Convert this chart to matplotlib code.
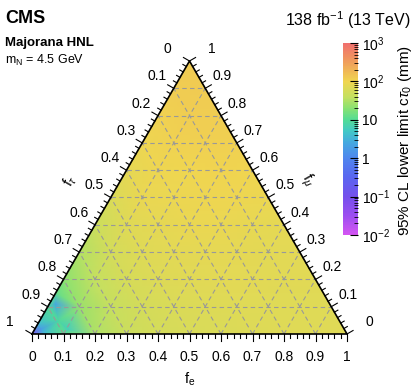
import numpy as np
import matplotlib
matplotlib.use("Agg")
import matplotlib.pyplot as plt
import matplotlib.tri as mtri
from matplotlib.colors import LinearSegmentedColormap, LogNorm
from matplotlib.cm import ScalarMappable
from matplotlib.ticker import FixedLocator, FixedFormatter, LogLocator

plt.rcParams['font.family'] = ['Liberation Sans', 'DejaVu Sans']
plt.rcParams['mathtext.fontset'] = 'custom'
plt.rcParams['mathtext.rm'] = 'Liberation Sans'
plt.rcParams['mathtext.it'] = 'Liberation Sans:italic'
plt.rcParams['mathtext.bf'] = 'Liberation Sans:bold'

# ---------------- data ----------------
# f_mu levels (rows); each row lists ctau lower limit (mm) for f_e = 0, 0.1, ...
mu_levels = [0.0, 0.1, 0.2, 0.3, 0.4, 0.5, 0.6, 0.7, 0.8, 0.9, 1.0]
ctau_row_00 = [0.05, 12, 30, 45, 55, 60, 63, 66, 68, 68, 68]
ctau_row_01 = [10, 25, 42, 55, 62, 66, 68, 69, 69, 68]
ctau_row_02 = [20, 40, 58, 66, 71, 74, 74, 72, 71]
ctau_row_03 = [32, 55, 68, 76, 79, 79, 76, 74]
ctau_row_04 = [45, 68, 80, 85, 85, 83, 79]
ctau_row_05 = [63, 85, 90, 93, 93, 89]
ctau_row_06 = [79, 95, 100, 105, 100]
ctau_row_07 = [95, 110, 112, 112]
ctau_row_08 = [110, 120, 120]
ctau_row_09 = [120, 126]
ctau_row_10 = [126]
# extra points near the f_tau = 1 corner
extra_fe = [0.0, 0.04, 0.02, 0.02, 0.105, 0.06, 0.0]
extra_fmu = [0.04, 0.0, 0.02, 0.11, 0.018, 0.05, 0.15]
extra_ctau = [4, 4, 2, 2.5, 6, 9, 12]

tick_values = [0.0, 0.1, 0.2, 0.3, 0.4, 0.5, 0.6, 0.7, 0.8, 0.9, 1.0]
tick_labels = ["0", "0.1", "0.2", "0.3", "0.4", "0.5", "0.6", "0.7", "0.8", "0.9", "1"]
cbar_ticks = [1e-2, 1e-1, 1, 10, 1e2, 1e3]
cbar_ticklabels = [r"$10^{-2}$", r"$10^{-1}$", "1", "10", r"$10^{2}$", r"$10^{3}$"]

# ---------------- build points ----------------
rows = [ctau_row_00, ctau_row_01, ctau_row_02, ctau_row_03, ctau_row_04, ctau_row_05,
        ctau_row_06, ctau_row_07, ctau_row_08, ctau_row_09, ctau_row_10]
fe_pts, fmu_pts, ctau_pts = [], [], []
for fmu, row in zip(mu_levels, rows):
    for i, v in enumerate(row):
        fe_pts.append(round(i * 0.1, 3))
        fmu_pts.append(fmu)
        ctau_pts.append(v)
fe_pts += extra_fe
fmu_pts += extra_fmu
ctau_pts += extra_ctau
fe_pts = np.array(fe_pts); fmu_pts = np.array(fmu_pts); ctau_pts = np.array(ctau_pts)

S = np.sqrt(3) / 2
def to_xy(fe, fmu):
    return np.asarray(fe) + 0.5 * np.asarray(fmu), S * np.asarray(fmu)

cmap = LinearSegmentedColormap.from_list("cms", [
    (0.00, "#d455f2"), (0.10, "#9c4ef0"), (0.20, "#7450ec"), (0.30, "#5a66f0"),
    (0.40, "#4f86ee"), (0.48, "#45a8e0"), (0.54, "#42c8c8"), (0.60, "#52dc96"),
    (0.66, "#88e272"), (0.72, "#c4e060"), (0.80, "#f0d650"), (0.87, "#f0b058"),
    (0.93, "#f09060"), (1.00, "#f0706e")])
norm = LogNorm(1e-2, 1e3)

W, H = 416, 389
fig = plt.figure(figsize=(W / 100, H / 100), dpi=100)
base_y, top_y, left_x, right_x = 334, 61, 32, 347
ax = fig.add_axes([left_x / W, (H - base_y) / H, (right_x - left_x) / W, (base_y - top_y) / H])
ax.set_xlim(0, 1); ax.set_ylim(0, S)
ax.axis('off')

x, y = to_xy(fe_pts, fmu_pts)
tri = mtri.Triangulation(x, y)
ax.tripcolor(tri, ctau_pts, shading='gouraud', cmap=cmap, norm=norm, zorder=1)

# grid
for v in tick_values[1:-1]:
    xa, ya = to_xy([0, 1 - v], [v, v])
    ax.plot(xa, ya, ls=(0, (4, 3)), color='#999999', lw=0.8, zorder=2)
    xa, ya = to_xy([v, v], [0, 1 - v])
    ax.plot(xa, ya, ls=(0, (4, 3)), color='#999999', lw=0.8, zorder=2)
    xa, ya = to_xy([1 - v, 0], [0, 1 - v])
    ax.plot(xa, ya, ls=(0, (4, 3)), color='#999999', lw=0.8, zorder=2)

# edges
ex, ey = to_xy([0, 1, 0, 0], [0, 0, 1, 0])
ax.plot(ex, ey, color='black', lw=1.2, zorder=4, clip_on=False, solid_joinstyle='miter')

# ticks
px = 1 / 315.0
maj, mnr = 7 * px, 4 * px
dirs = {'b': (0, -1), 'l': (-np.cos(np.pi / 6), np.sin(np.pi / 6)), 'r': (np.cos(np.pi / 6), np.sin(np.pi / 6))}
for k in range(51):
    v = k * 0.02
    L = maj if k % 5 == 0 else mnr
    bx, by = to_xy(v, 0)
    ax.plot([bx, bx + dirs['b'][0] * L], [by, by + dirs['b'][1] * L], color='black', lw=0.8, clip_on=False, zorder=4)
    lx, ly = to_xy(0, 1 - v)
    ax.plot([lx, lx + dirs['l'][0] * L], [ly, ly + dirs['l'][1] * L], color='black', lw=0.8, clip_on=False, zorder=4)
    rx, ry = to_xy(1 - v, v)
    ax.plot([rx, rx + dirs['r'][0] * L], [ry, ry + dirs['r'][1] * L], color='black', lw=0.8, clip_on=False, zorder=4)

fs = 10
for v, lab in zip(tick_values, tick_labels):
    bx, by = to_xy(v, 0)
    ax.annotate(lab, (bx, by), xytext=(0, -23), textcoords='offset pixels', ha='center', va='center', fontsize=fs)
    lx, ly = to_xy(0, 1 - v)
    ax.annotate(lab, (lx, ly), xytext=(-26, 12), textcoords='offset pixels', ha='left', va='center', fontsize=fs)
    rx, ry = to_xy(1 - v, v)
    ax.annotate(lab, (rx, ry), xytext=(26, 12), textcoords='offset pixels', ha='right', va='center', fontsize=fs)

# axis titles
fig.text(190 / W, 1 - 379 / H, r"f$_{\mathrm{e}}$", ha='center', va='center', fontsize=10.5)
fig.text(70 / W, 1 - 181 / H, r"f$_{\tau}$", ha='center', va='center', fontsize=10.5, rotation=60)
fig.text(307 / W, 1 - 180 / H, r"f$_{\mu}$", ha='center', va='center', fontsize=10.5, rotation=-60)

# colorbar
cax = fig.add_axes([343 / W, (H - 235) / H, 15 / W, 192 / H])
sm = ScalarMappable(norm=norm, cmap=cmap)
cb = fig.colorbar(sm, cax=cax)
cb.outline.set_visible(False)
cax.yaxis.set_major_locator(FixedLocator(cbar_ticks))
cax.yaxis.set_major_formatter(FixedFormatter(cbar_ticklabels))
cax.yaxis.set_minor_locator(LogLocator(base=10, subs=np.arange(2, 10)))
cax.tick_params(which='major', direction='in', length=6, width=0.8, labelsize=10, pad=3, right=True)
cax.tick_params(which='minor', direction='in', length=3, width=0.6, right=True)
fig.text(405 / W, 1 - 140 / H, r"95% CL lower limit c$\tau_{0}$ (mm)", rotation=90, ha='center', va='center', fontsize=11)

# header texts
fig.text(5 / W, 1 - 23 / H, "CMS", fontsize=13, fontweight='bold', ha='left', va='baseline')
fig.text(411 / W, 1 - 26 / H, r"138 fb$^{-1}$ (13 TeV)", fontsize=11.5, ha='right', va='baseline')
fig.text(5 / W, 1 - 46 / H, "Majorana HNL", fontsize=9.5, fontweight='bold', ha='left', va='baseline')
fig.text(5 / W, 1 - 64 / H, r"m$_{\mathrm{N}}$ = 4.5 GeV", fontsize=9, ha='left', va='baseline')

fig.savefig("out.png", dpi=100)
